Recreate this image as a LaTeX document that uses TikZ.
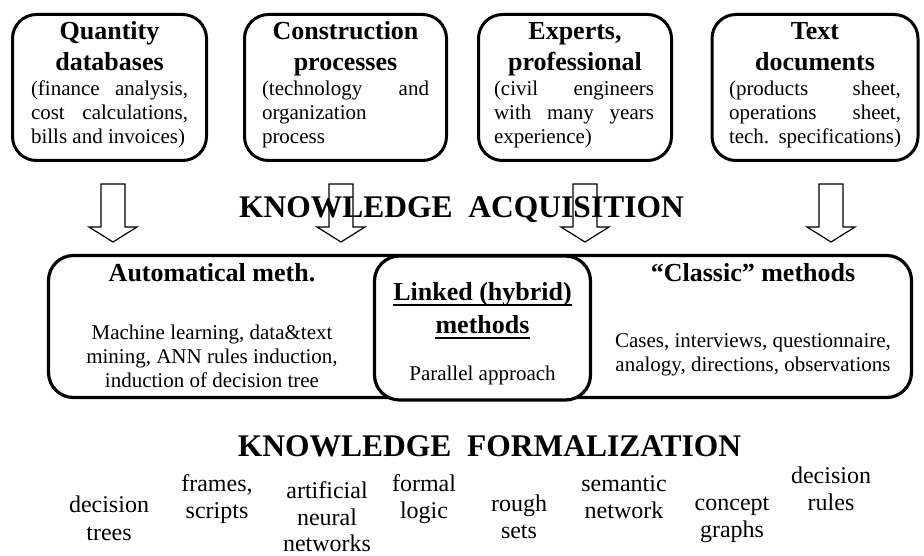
\documentclass[tikz,border=0pt]{standalone}
\usepackage{fontspec}
\setmainfont{Liberation Serif}
\newcommand\jline[2]{\makebox[#1][s]{#2}}
\newcommand\lline[2]{\makebox[#1][l]{#2}}
\begin{document}
\begin{tikzpicture}[x=1pt,y=-1pt,
  srcbox/.style={draw, line width=3pt, rounded corners=24pt, inner sep=0pt},
  methbox/.style={draw, line width=3.2pt, rounded corners=25pt, inner sep=0pt},
  ttl/.style={anchor=base, inner sep=0pt, font=\fontsize{26}{31}\selectfont\bfseries},
  bdy/.style={anchor=base, inner sep=0pt, font=\fontsize{21}{24}\selectfont},
  word/.style={anchor=base, inner sep=0pt, font=\fontsize{24}{28}\selectfont},
  head/.style={anchor=base, inner sep=0pt, font=\fontsize{31.5}{36}\selectfont\bfseries},
  arr/.style={draw, line width=1.2pt, line join=miter},
  uline/.style={line width=2pt}
]
\useasboundingbox (0,0) rectangle (924,556);

% ---- knowledge sources ----
\node[srcbox, minimum width=194pt, minimum height=146pt] (qd) at (109.5,87.5) {};
\node[srcbox, minimum width=202pt, minimum height=146pt] (cp) at (345.5,87.5) {};
\node[srcbox, minimum width=193pt, minimum height=146pt] (ep) at (575,87.5) {};
\node[srcbox, minimum width=206pt, minimum height=146pt] (td) at (815,87.5) {};

\node[ttl] (qd-t1) at (109.5,40) {Quantity};
\node[ttl] (qd-t2) at (109.5,71) {databases};
\node[bdy] (qd-b1) at (109.5,96) {\jline{157pt}{(finance analysis,}};
\node[bdy] (qd-b2) at (109.5,120) {\jline{157pt}{cost calculations,}};
\node[bdy] (qd-b3) at (109.5,144) {\lline{157pt}{bills and invoices)}};

\node[ttl] (cp-t1) at (345.5,40) {Construction};
\node[ttl] (cp-t2) at (345.5,71) {processes};
\node[bdy] (cp-b1) at (345.5,96) {\jline{167pt}{(technology and}};
\node[bdy] (cp-b2) at (345.5,120) {\lline{167pt}{organization}};
\node[bdy] (cp-b3) at (345.5,144) {\lline{167pt}{process}};

\node[ttl] (ep-t1) at (575,40) {Experts,};
\node[ttl] (ep-t2) at (575,71) {professional};
\node[bdy] (ep-b1) at (574,96) {\jline{160pt}{(civil engineers}};
\node[bdy] (ep-b2) at (574,120) {\jline{160pt}{with many years}};
\node[bdy] (ep-b3) at (574,144) {\lline{160pt}{experience)}};

\node[ttl] (td-t1) at (815,40) {Text};
\node[ttl] (td-t2) at (815,71) {documents};
\node[bdy] (td-b1) at (815,96) {\jline{172pt}{(products sheet,}};
\node[bdy] (td-b2) at (815,120) {\jline{172pt}{operations sheet,}};
\node[bdy] (td-b3) at (815,144) {\jline{172pt}{tech. specifications)}};

% ---- acquisition heading ----
\node[head] (acq) at (461.5,218) {KNOWLEDGE\ \ ACQUISITION};

% ---- hollow block arrows ----
\foreach \ax/\nm in {113/a1, 341/a2, 585/a3, 831/a4}{
  \coordinate (\nm) at (\ax,184);
  \draw[arr, shift={(\nm)}] (-12,0) -- (-12,43) -- (-24,43) -- (0,58)
        -- (24,43) -- (12,43) -- (12,0) -- cycle;
}

% ---- acquisition methods ----
\node[methbox, minimum width=863pt, minimum height=142pt] (mb) at (480,326.5) {};
\node[methbox, fill=white, minimum width=216pt, minimum height=144pt] (hy) at (482.5,328) {};

\node[ttl] (au-t) at (212,281) {Automatical meth.};
\node[bdy] (au-b1) at (212,339) {Machine learning, data\&text};
\node[bdy] (au-b2) at (212,363) {mining, ANN rules induction,};
\node[bdy] (au-b3) at (212,387) {induction of decision tree};

\node[ttl] (hy-t1) at (482.5,300) {Linked (hybrid)};
\node[ttl] (hy-t2) at (482.5,333) {methods};
\draw[uline] ([yshift=-5pt]hy-t1.base west) -- ([yshift=-5pt]hy-t1.base east);
\draw[uline] ([yshift=-5pt]hy-t2.base west) -- ([yshift=-5pt]hy-t2.base east);
\node[bdy] (hy-b) at (482.5,380) {Parallel approach};

\node[ttl] (cl-t) at (753,282) {“Classic” methods};
\node[bdy] (cl-b1) at (753,347) {Cases, interviews, questionnaire,};
\node[bdy] (cl-b2) at (753,371) {analogy, directions, observations};

% ---- formalization ----
\node[head] (frm) at (489.5,456) {KNOWLEDGE\ \ FORMALIZATION};

\node[word] (w1a) at (109,512) {decision};
\node[word] (w1b) at (109,540) {trees};
\node[word] (w2a) at (217,491) {frames,};
\node[word] (w2b) at (217,518) {scripts};
\node[word] (w3a) at (327,498) {artificial};
\node[word] (w3b) at (327,525) {neural};
\node[word] (w3c) at (327,551) {networks};
\node[word] (w4a) at (424,491) {formal};
\node[word] (w4b) at (424,518) {logic};
\node[word] (w5a) at (519,511) {rough};
\node[word] (w5b) at (519,538) {sets};
\node[word] (w6a) at (624,491) {semantic};
\node[word] (w6b) at (624,518) {network};
\node[word] (w7a) at (732,510) {concept};
\node[word] (w7b) at (732,537) {graphs};
\node[word] (w8a) at (831,483) {decision};
\node[word] (w8b) at (831,510) {rules};
\end{tikzpicture}
\end{document}
